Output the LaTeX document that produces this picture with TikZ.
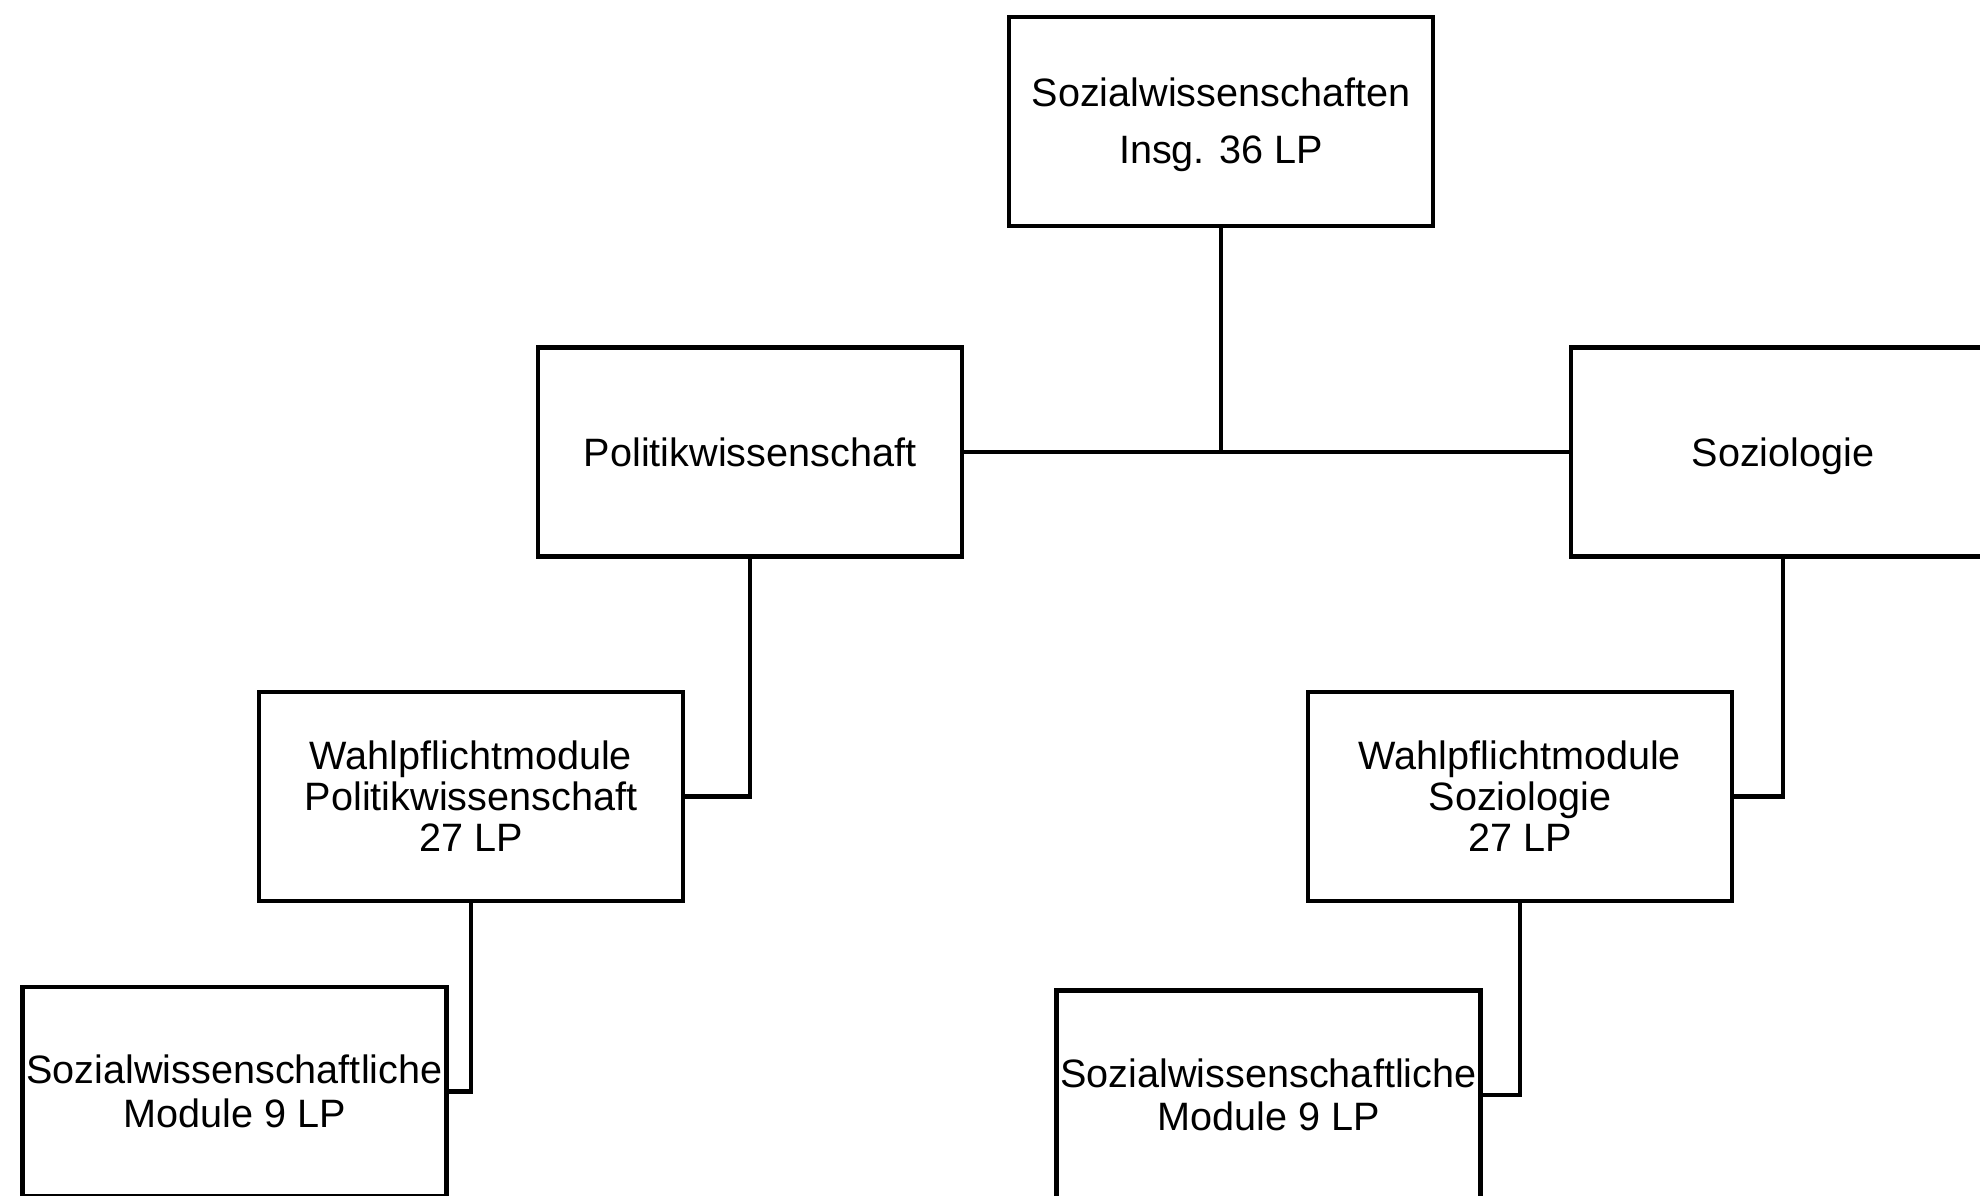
\documentclass[tikz,border=0pt]{standalone}
\usepackage{fontspec}
\setmainfont{Liberation Sans}
\begin{document}
\begin{tikzpicture}[x=0.5pt,y=-0.5pt,
  box/.style={draw=black,line width=2.2pt,fill=white,minimum width=212pt,minimum height=104.5pt,
    inner sep=0pt,align=center,font=\fontsize{19.8}{20.5}\selectfont},
  link/.style={draw=black,line width=2.2pt,line cap=rect}]
\useasboundingbox (0,0) rectangle (1980,1195);
\clip (0,0) rectangle (1980,1195);
\fill[white] (0,0) rectangle (1980,1195);
\node[box] (top) at (1221,121.5) {\raisebox{-1.5pt}[\height][\depth]{\parbox{200pt}{\centering\fontsize{19.8}{28.5}\selectfont Sozialwissenschaften\\Insg. 36 LP}}};
\node[box] (pol) at (750,452) {Politikwissenschaft};
\node[box] (soz) at (1783,452) {\raisebox{0pt}[\height][0pt]{Soziologie}};
\node[box] (wpol) at (471,796.5) {Wahlpflichtmodule\\Politikwissenschaft\\27 LP};
\node[box] (wsoz) at (1520,796.5) {Wahlpflichtmodule\\Soziologie\\27 LP};
\node[box,font=\fontsize{19.8}{22}\selectfont] (mpol) at (234.5,1091.5) {Sozialwissenschaftliche\\Module 9 LP};
\node[box,font=\fontsize{19.8}{21.5}\selectfont] (msoz) at (1268.5,1095) {Sozialwissenschaftliche\\Module 9 LP};
\draw[link] (top.south) -- (top.south |- pol.east);
\draw[link] (pol.east) -- (soz.west);
\draw[link] (pol.south) |- (wpol.east);
\draw[link] (soz.south) |- (wsoz.east);
\draw[link] (wpol.south) |- (mpol.east);
\draw[link] (wsoz.south) |- (msoz.east);
\end{tikzpicture}
\end{document}
